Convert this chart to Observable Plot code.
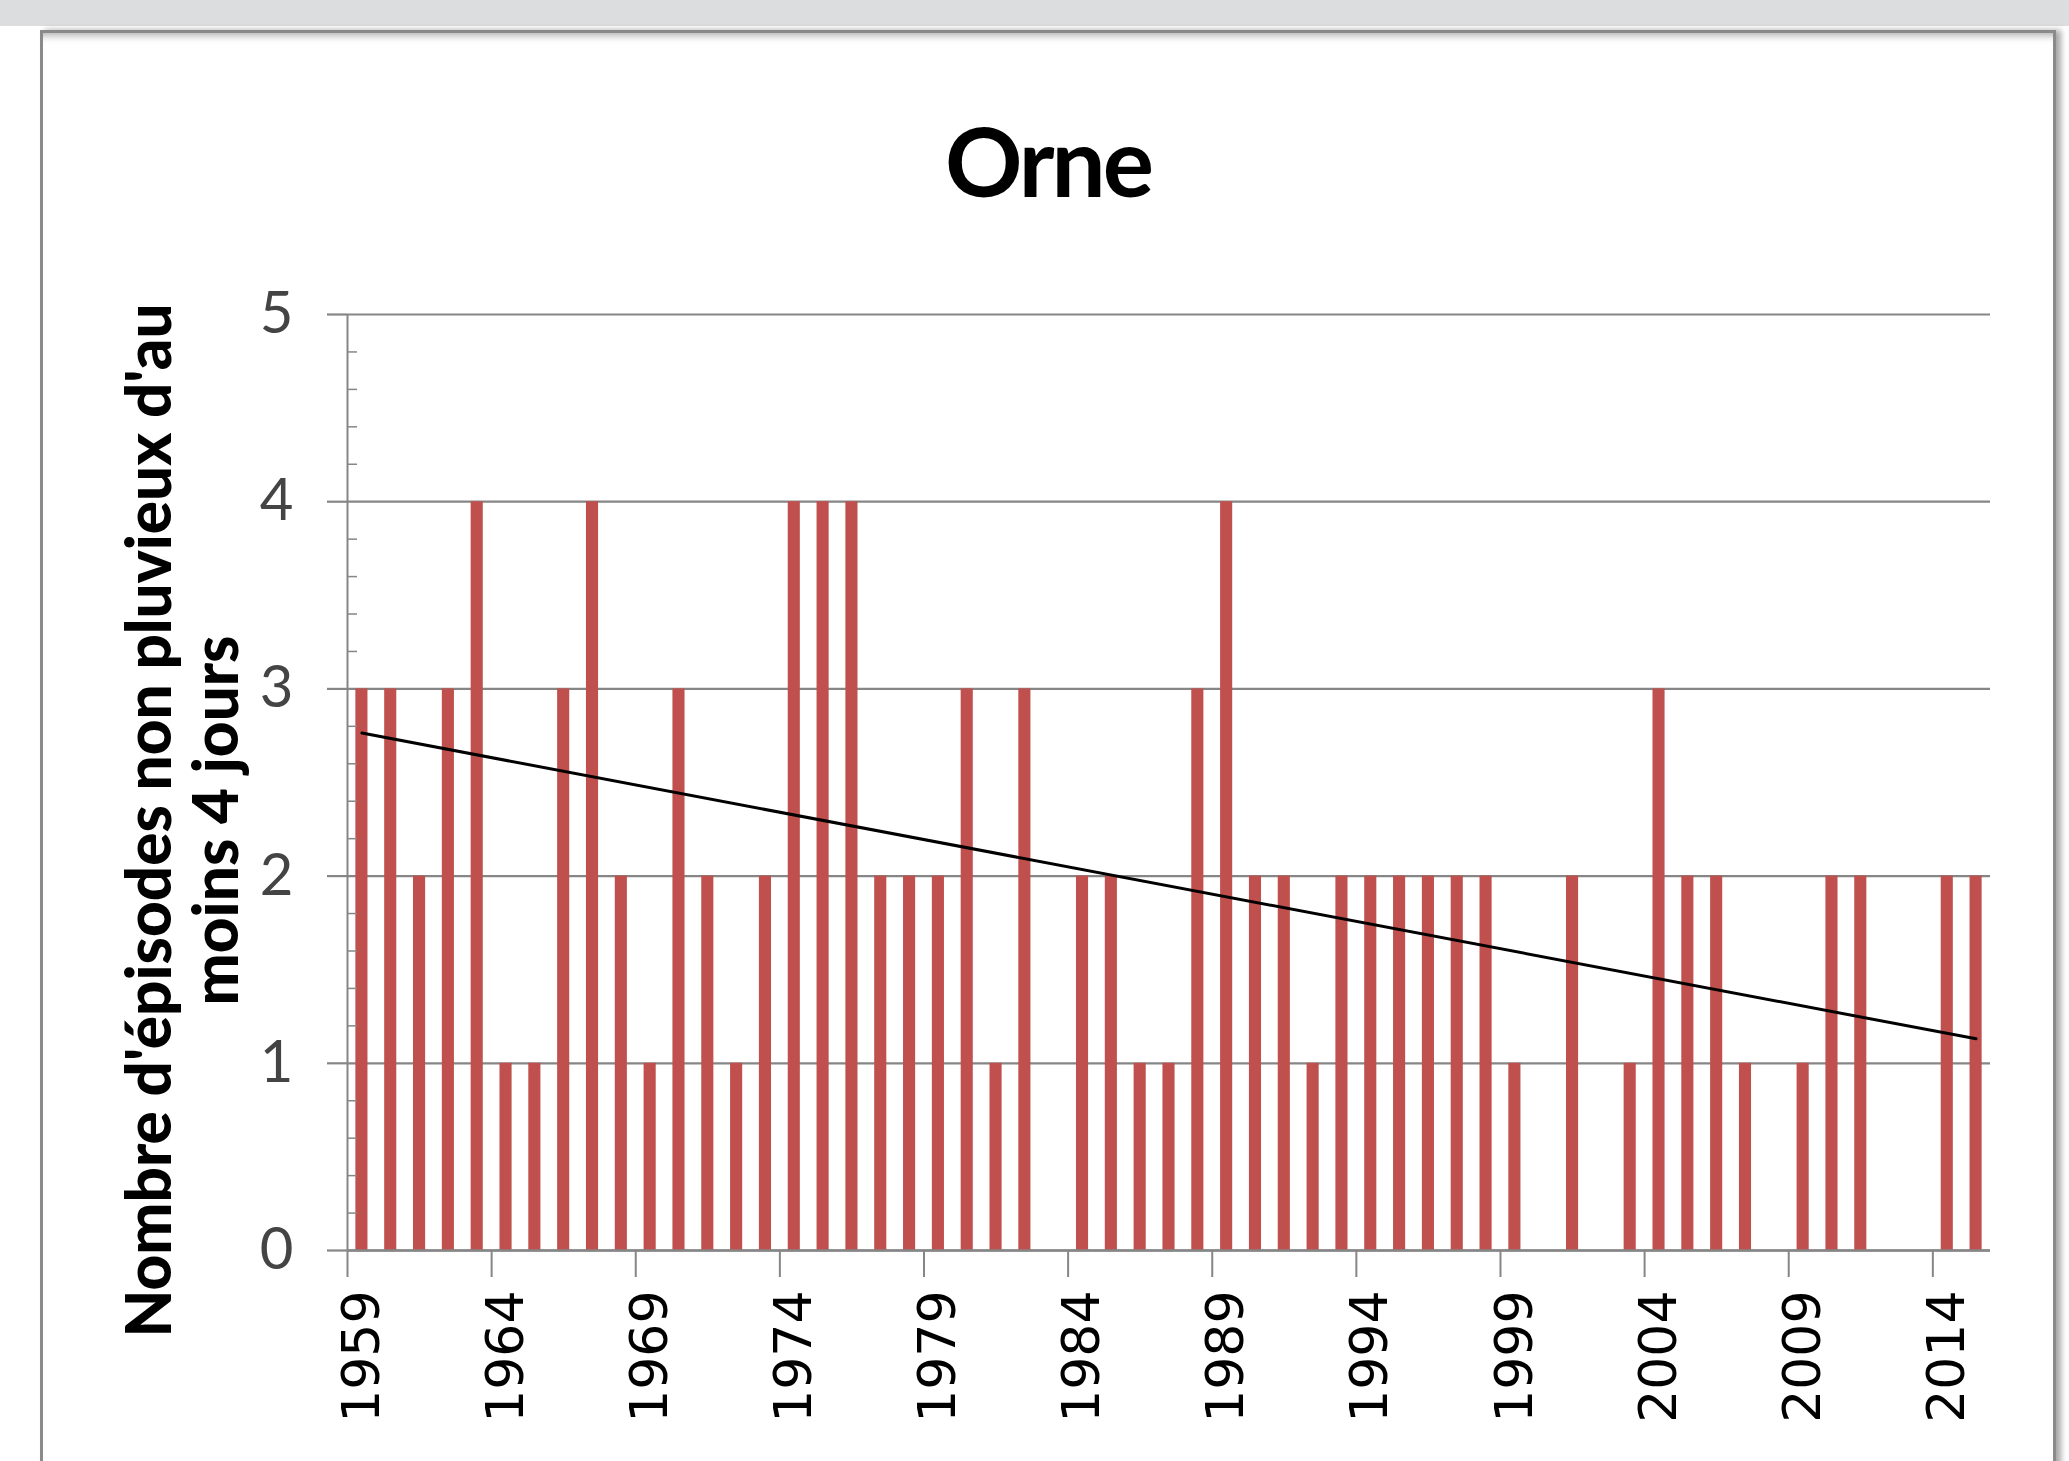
<!DOCTYPE html>
<html>
<head>
<meta charset="utf-8">
<script src="https://cdn.jsdelivr.net/npm/d3@7"></script>
<script src="https://cdn.jsdelivr.net/npm/@observablehq/plot@0.6"></script>
<style>
  html, body { margin: 0; padding: 0; width: 2069px; height: 1461px; overflow: hidden; background: #fff; }
  #band { position: absolute; left: 0; top: 0; width: 2069px; height: 26px; background: #dcdddf; }
  #card { position: absolute; left: 40px; top: 30px; width: 2010px; height: 1500px; border: 3px solid #8a8a8a; background: #fff;
          box-shadow: 5px 0 6px rgba(0,0,0,.35), inset 0 10px 8px -8px rgba(0,0,0,.35); }
  #title { position: absolute; left: 40px; width: 2016px; top: 112px; text-align: center;
           font-family: Lato, "Open Sans", sans-serif; font-weight: bold; font-size: 96px; line-height: 1; letter-spacing: -3px; color: #000; }
  #chart { position: absolute; left: 0; top: 0; }
</style>
</head>
<body>
<div id="band"></div>
<div id="card"></div>
<div id="title">Orne</div>
<div id="chart"></div>
<script>
const years = [1959,1960,1961,1962,1963,1964,1965,1966,1967,1968,
               1969,1970,1971,1972,1973,1974,1975,1976,1977,1978,
               1979,1980,1981,1982,1983,1984,1985,1986,1987,1988,
               1989,1990,1991,1992,1993,1994,1995,1996,1997,1998,
               1999,2000,2001,2002,2003,2004,2005,2006,2007,2008,
               2009,2010,2011,2012,2013,2014,2015];
const counts = [3,3,2,3,4,1,1,3,4,2,
                1,3,2,1,2,4,4,4,2,2,
                2,3,1,3,0,2,2,1,1,3,
                4,2,2,1,2,2,2,2,2,2,
                1,0,2,0,1,3,2,2,1,0,
                1,2,2,0,0,2,2];
const yTicks = [0,1,2,3,4,5];
const yMinorTicks = [0.2,0.4,0.6,0.8,1.2,1.4,1.6,1.8,2.2,2.4,2.6,2.8,3.2,3.4,3.6,3.8,4.2,4.4,4.6,4.8];
const xLabelYears = [1959,1964,1969,1974,1979,1984,1989,1994,1999,2004,2009,2014];
const xTickBounds = [1958.5,1963.5,1968.5,1973.5,1978.5,1983.5,1988.5,1993.5,1998.5,2003.5,2008.5,2013.5];
const yTitle = ["Nombre d'épisodes non pluvieux d'au", "moins 4 jours"];

const data = years.map((year, i) => ({year, value: counts[i]}));
const gridColor = "#868686";

const chart = Plot.plot({
  width: 2069,
  height: 1461,
  marginLeft: 347,
  marginRight: 79,
  marginTop: 314,
  marginBottom: 211,
  x: {domain: [1958.5, 2015.5]},
  y: {domain: [0, 5]},
  style: {background: "transparent", overflow: "visible"},
  marks: [
    Plot.ruleY(yTicks, {stroke: gridColor, strokeWidth: 2.2}),
    Plot.rectY(data, {x1: d => d.year - 0.21, x2: d => d.year + 0.21, y: "value", fill: "#C0504D"}),
    Plot.ruleY([0], {stroke: gridColor, strokeWidth: 2.5}),
    Plot.ruleX([1958.5], {stroke: gridColor, strokeWidth: 2}),
    Plot.axisY({ticks: yTicks, tickSize: 20, tickPadding: 34, fontSize: 58, fontFamily: "Lato",
                fill: "#444", stroke: gridColor, strokeWidth: 2.2, label: null, tickFormat: d => String(d)}),
    Plot.axisY({ticks: yMinorTicks, tickSize: 10, dx: 10, tickFormat: () => "",
                stroke: gridColor, strokeWidth: 1.5, label: null}),
    Plot.axisX({ticks: xTickBounds, tickSize: 27, tickFormat: () => "",
                stroke: gridColor, strokeWidth: 2, label: null}),
    Plot.axisX({ticks: xLabelYears, tickSize: 0, tickPadding: 40, tickRotate: -90, fontSize: 52,
                fontFamily: "DejaVu Sans", fill: "#000", label: null, tickFormat: d => String(d)}),
    Plot.linearRegressionY(data, {x: "year", y: "value", stroke: "#000", strokeWidth: 3, ci: 0}),
    Plot.text([yTitle.join("\n")], {frameAnchor: "left", dx: -164, dy: 38, rotate: -90,
                fontSize: 62, fontFamily: "Lato", fontWeight: 900, lineHeight: 1.08,
                textAnchor: "middle", fill: "#000"})
  ]
});
document.getElementById("chart").appendChild(chart);
</script>
</body>
</html>
